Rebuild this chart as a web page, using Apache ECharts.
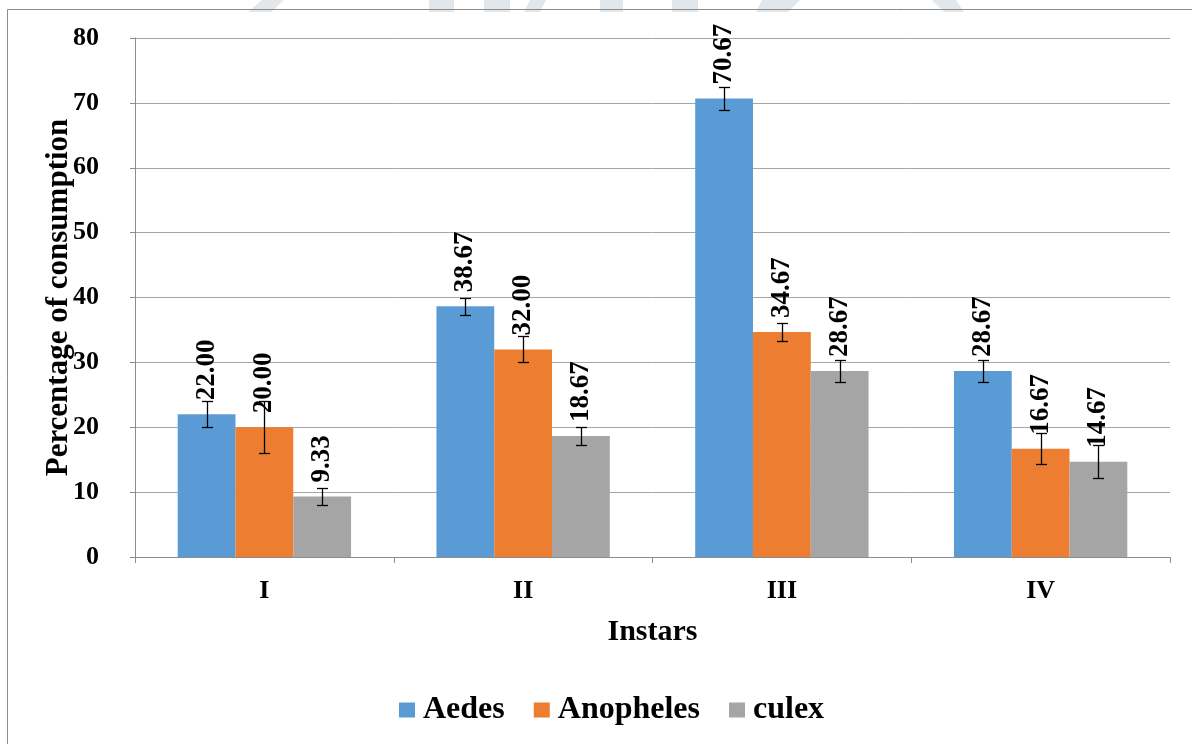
<!DOCTYPE html>
<html>
<head>
<meta charset="utf-8">
<script src="https://cdn.jsdelivr.net/npm/echarts@6/dist/echarts.min.js"></script>
<style>
html,body{margin:0;padding:0;background:#fff;}
#chart{width:1192px;height:744px;}
</style>
</head>
<body>
<div id="chart"></div>
<script>
const categories = ['I', 'II', 'III', 'IV'];
const seriesNames = ['Aedes', 'Anopheles', 'culex'];
const aedes = [22.00, 38.67, 70.67, 28.67];
const anopheles = [20.00, 32.00, 34.67, 16.67];
const culex = [9.33, 18.67, 28.67, 14.67];
const aedesErr = [2.0, 1.33, 1.75, 1.75];
const anophelesErr = [4.0, 2.0, 1.33, 2.4];
const culexErr = [1.33, 1.33, 1.75, 2.55];
const yTicks = [0, 10, 20, 30, 40, 50, 60, 70, 80];

const colors = ['#5B9BD5', '#ED7D31', '#A5A5A5'];
const FONT = 'Liberation Serif';
const CAT_GAP = 0.33;

const values = [aedes, anopheles, culex];
const errs = [aedesErr, anophelesErr, culexErr];

function barSeries(k) {
  return {
    name: seriesNames[k],
    type: 'bar',
    data: values[k],
    barGap: '0%',
    barCategoryGap: (CAT_GAP * 100) + '%',
    itemStyle: { color: colors[k] },
    label: {
      show: true,
      position: 'top',
      rotate: 90,
      align: 'left',
      verticalAlign: 'middle',
      distance: 14,
      formatter: p => Number(p.value).toFixed(2),
      color: '#000',
      fontFamily: FONT,
      fontWeight: 'bold',
      fontSize: 27
    },
    z: 2
  };
}

function errSeries(k) {
  return {
    type: 'custom',
    data: categories.map((c, i) => [i, values[k][i], errs[k][i]]),
    encode: { x: 0, y: 1 },
    silent: true,
    z: 5,
    renderItem: function (params, api) {
      const i = api.value(0), v = api.value(1), e = api.value(2);
      const band = api.size([1, 0])[0];
      const bw = band * (1 - CAT_GAP) / 3;
      const x = Math.round(api.coord([i, v])[0] + (k - 1) * bw) + 0.5;
      const yT = Math.round(api.coord([i, v + e])[1]) + 0.5;
      const yB = Math.round(api.coord([i, v - e])[1]) + 0.5;
      const h = 5.5;
      const st = { stroke: '#000', lineWidth: 1.3 };
      return {
        type: 'group',
        children: [
          { type: 'line', shape: { x1: x, y1: yT, x2: x, y2: yB }, style: st },
          { type: 'line', shape: { x1: x - h, y1: yT, x2: x + h, y2: yT }, style: st },
          { type: 'line', shape: { x1: x - h, y1: yB, x2: x + h, y2: yB }, style: st }
        ]
      };
    }
  };
}

const wmColor = '#e1e7eb';
const watermark = [
  [[248, 12], [262, 0], [284, 0], [271, 12]],
  [[429, 0], [454, 0], [454, 12], [429, 12]],
  [[484, 0], [510, 0], [510, 12], [484, 12]],
  [[524, 12], [530, 0], [546, 0], [540, 12]],
  [[600, 0], [623, 0], [623, 12], [600, 12]],
  [[672, 0], [698, 0], [698, 12], [672, 12]],
  [[756, 12], [762, 0], [800, 0], [788, 12]],
  [[932, 0], [956, 0], [964, 12], [944, 12]]
].map(pts => ({ type: 'polygon', shape: { points: pts }, style: { fill: wmColor }, z: -10, silent: true }));

const chart = echarts.init(document.getElementById('chart'), null, { renderer: 'canvas' });
chart.setOption({
  animation: false,
  backgroundColor: '#fff',
  color: colors,
  textStyle: { fontFamily: FONT },
  graphic: watermark.concat([
    { type: 'rect', shape: { x: 7.5, y: 9.5, width: 1300, height: 900 },
      style: { fill: null, stroke: '#8c8c8c', lineWidth: 1 }, z: -5, silent: true }
  ]),
  grid: { left: 135, right: 22, top: 38, bottom: 187, containLabel: false },
  legend: {
    data: seriesNames,
    left: 394,
    top: 689,
    itemWidth: 16,
    itemHeight: 15,
    itemGap: 29,
    icon: 'rect',
    textStyle: { fontFamily: FONT, fontWeight: 'bold', fontSize: 32, color: '#000', padding: [0, 0, 0, 3] }
  },
  xAxis: {
    type: 'category',
    data: categories,
    name: 'Instars',
    nameLocation: 'middle',
    nameGap: 60,
    nameMoveOverlap: false,
    nameTextStyle: { fontFamily: FONT, fontWeight: 'bold', fontSize: 30, color: '#000' },
    axisLine: { show: true, lineStyle: { color: '#8c8c8c', width: 1 } },
    axisTick: { show: true, length: 6, lineStyle: { color: '#8c8c8c' } },
    axisLabel: { margin: 21, fontFamily: FONT, fontWeight: 'bold', fontSize: 26, color: '#000' }
  },
  yAxis: {
    type: 'value',
    min: 0,
    max: 80,
    interval: 10,
    name: 'Percentage of consumption',
    nameLocation: 'middle',
    nameGap: 61,
    nameMoveOverlap: false,
    nameTextStyle: { fontFamily: FONT, fontWeight: 'bold', fontSize: 31, color: '#000' },
    axisLine: { show: true, lineStyle: { color: '#8c8c8c', width: 1 } },
    axisTick: { show: true, length: 5, lineStyle: { color: '#8c8c8c' } },
    splitLine: { show: true, lineStyle: { color: '#a6a6a6', width: 1 } },
    axisLabel: {
      margin: 36,
      fontFamily: FONT, fontWeight: 'bold', fontSize: 26, color: '#000',
      formatter: v => yTicks.includes(v) ? String(v) : ''
    }
  },
  series: [barSeries(0), barSeries(1), barSeries(2), errSeries(0), errSeries(1), errSeries(2)]
});
</script>
</body>
</html>
